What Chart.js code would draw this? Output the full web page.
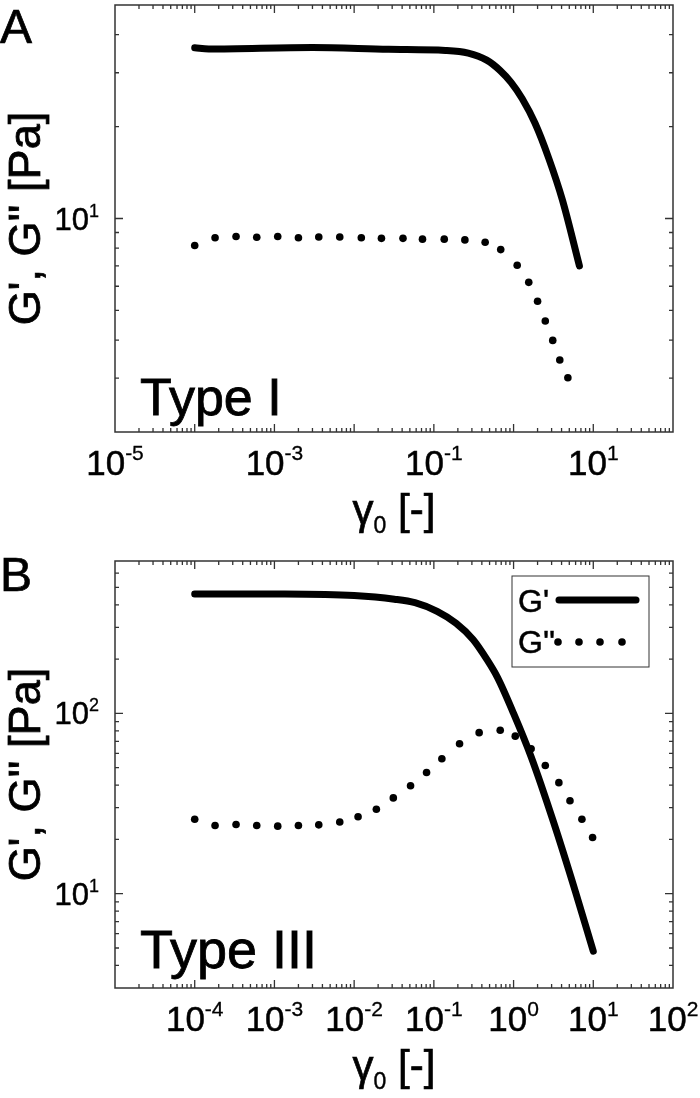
<!DOCTYPE html>
<html>
<head>
<meta charset="utf-8">
<script src="https://cdn.jsdelivr.net/npm/chart.js@4.4.0/dist/chart.umd.min.js"></script>
<style>
  html, body { margin: 0; padding: 0; background: #fff; }
  .panel { position: absolute; left: 0; width: 700px; }
  #wrapA { top: 0; height: 545px; }
  #wrapB { top: 545px; height: 553px; }
</style>
</head>
<body>
<div class="panel" id="wrapA"><canvas id="chartA"></canvas></div>
<div class="panel" id="wrapB"><canvas id="chartB"></canvas></div>
<script>
'use strict';

// Panel A (Type I) - strain amplitude and moduli
const strainA_Gp = [1e-4, 1.5e-4, 3e-3, 2.7e-2, 0.14, 0.27, 0.46, 0.68, 0.93, 1.28, 1.86, 2.75, 4.1, 6.7];
const gPrimeA = [36.2, 35.9, 36.3, 35.8, 35.5, 34.8, 33.0, 30.5, 27.9, 24.7, 20.5, 15.8, 11.5, 7.0];
const strainA_Gpp = [1e-4, 1.8e-4, 3.3e-4, 6e-4, 1.1e-3, 2e-3, 3.6e-3, 6.6e-3, 1.23e-2, 2.2e-2, 4.1e-2, 7.2e-2,
  0.135, 0.245, 0.44, 0.69, 1.11, 1.55, 2.0, 2.5, 3.1, 3.8, 4.8];
const gDoublePrimeA = [8.16, 8.65, 8.73, 8.68, 8.73, 8.65, 8.70, 8.70, 8.65, 8.61, 8.61, 8.56,
  8.56, 8.51, 8.36, 7.91, 7.03, 6.18, 5.36, 4.62, 3.99, 3.44, 3.01];

// Panel B (Type III)
const strainB_Gp = [1e-4, 1e-3, 1e-2, 3.2e-2, 5.8e-2, 0.11, 0.19, 0.31, 0.46, 0.63, 1.0, 1.66, 3.16, 6.0, 10];
const gPrimeB = [460, 459, 450, 430, 411, 368, 316, 257, 200, 158, 100, 57.5, 25.1, 10.2, 4.8];
const strainB_Gpp = [1e-4, 1.8e-4, 3.3e-4, 6e-4, 1.1e-3, 2e-3, 3.6e-3, 6.6e-3, 1.12e-2, 1.9e-2, 3.1e-2, 5.1e-2,
  8.1e-2, 0.126, 0.21, 0.37, 0.68, 1.05, 1.66, 2.5, 3.7, 5.1, 7.2, 9.8];
const gDoublePrimeB = [25.9, 23.9, 24.2, 23.9, 23.7, 23.9, 24.1, 25.0, 26.7, 29.4, 34.0, 39.7,
  47.0, 56.0, 67.8, 78.2, 80.7, 74.8, 63.7, 51.4, 41.3, 32.8, 25.9, 20.5];

// tick labels (exponents of 10)
const xLabelsA = [-5, -3, -1, 1];
const yLabelsA = [1];
const xLabelsB = [-4, -3, -2, -1, 0, 1, 2];
const yLabelsB = [1, 2];

const FONT = '"Liberation Sans", Arial, sans-serif';

function toPoints( xs, ys ) {
  let pts = [];
  for ( let i = 0; i < xs.length; i++ ) {
    pts.push( { x: xs[i], y: ys[i] } );
  }
  return pts;
}

function logTicks( min, max ) {
  let out = [];
  for ( let d = Math.floor( Math.log10( min ) ); d <= Math.ceil( Math.log10( max ) ); d++ ) {
    for ( let m = 1; m <= 9; m++ ) {
      let v = parseFloat( ( m * Math.pow( 10, d ) ).toPrecision( 6 ) );
      if ( v > min * 1.001 && v < max * 0.999 ) out.push( { v: v, major: m === 1 } );
    }
  }
  return out;
}

// filled text with a thin outline so it looks as heavy as the scan
function heavyText( ctx, txt, x, y, w ) {
  ctx.fillText( txt, x, y );
  ctx.lineWidth = w;
  ctx.strokeText( txt, x, y );
}

// "10" with a raised exponent
function drawPow( ctx, exp, x, y, size, expSize, rise, align ) {
  ctx.font = size + 'px ' + FONT;
  let w1 = ctx.measureText( '10' ).width;
  ctx.font = expSize + 'px ' + FONT;
  let e = String( exp );
  let w2 = ctx.measureText( e ).width;
  let start = align === 'right' ? x - w1 - w2 : x - ( w1 + w2 ) / 2;
  ctx.textAlign = 'left';
  ctx.textBaseline = 'alphabetic';
  ctx.font = size + 'px ' + FONT;
  heavyText( ctx, '10', start, y, 0.5 );
  ctx.font = expSize + 'px ' + FONT;
  heavyText( ctx, e, start + w1, y - rise, 0.3 );
}

const framePlugin = {
  id: 'frame',
  afterDraw( chart, args, opts ) {
    const ctx = chart.ctx;
    const a = chart.chartArea;
    const xs = chart.scales.x;
    const ys = chart.scales.y;
    ctx.save();
    ctx.fillStyle = '#000';

    // box
    ctx.strokeStyle = '#333';
    ctx.lineWidth = 1.5;
    ctx.strokeRect( a.left, a.top, a.right - a.left, a.bottom - a.top );

    // inward ticks on all four sides
    ctx.lineWidth = 1.3;
    ctx.beginPath();
    logTicks( xs.min, xs.max ).forEach( t => {
      let px = xs.getPixelForValue( t.v );
      let len = t.major ? 8 : 4;
      ctx.moveTo( px, a.bottom ); ctx.lineTo( px, a.bottom - len );
      ctx.moveTo( px, a.top ); ctx.lineTo( px, a.top + len );
    } );
    logTicks( ys.min, ys.max ).forEach( t => {
      let py = ys.getPixelForValue( t.v );
      let len = t.major ? 8 : 4;
      ctx.moveTo( a.left, py ); ctx.lineTo( a.left + len, py );
      ctx.moveTo( a.right, py ); ctx.lineTo( a.right - len, py );
    } );
    ctx.stroke();

    ctx.strokeStyle = '#000';
    // tick labels
    opts.xLabels.forEach( e => {
      drawPow( ctx, e, xs.getPixelForValue( Math.pow( 10, e ) ), a.bottom + 43, 35, 21, 15, 'center' );
    } );
    opts.yLabels.forEach( e => {
      drawPow( ctx, e, 99, ys.getPixelForValue( Math.pow( 10, e ) ) + 11, 31, 18, 13, 'right' );
    } );

    // x title: gamma_0 [-]
    ctx.textAlign = 'left';
    ctx.textBaseline = 'alphabetic';
    ctx.font = '42px ' + FONT;
    let wg = ctx.measureText( 'γ' ).width;
    let wb = ctx.measureText( ' [-]' ).width;
    ctx.font = '23px ' + FONT;
    let w0 = ctx.measureText( '0' ).width;
    let cx = ( a.left + a.right ) / 2;
    let sx = cx - ( wg + w0 + wb ) / 2;
    let by = a.bottom + 92;
    ctx.font = '42px ' + FONT;
    heavyText( ctx, 'γ', sx, by, 0.7 );
    heavyText( ctx, ' [-]', sx + wg + w0, by, 0.7 );
    ctx.font = '23px ' + FONT;
    heavyText( ctx, '0', sx + wg, by + 9, 0.4 );

    // y title
    ctx.save();
    ctx.translate( 40, ( a.top + a.bottom ) / 2 );
    ctx.rotate( -Math.PI / 2 );
    ctx.textAlign = 'center';
    ctx.font = '45px ' + FONT;
    heavyText( ctx, 'G\', G\'\' [Pa]', 0, 0, 0.8 );
    ctx.restore();

    // panel letter and type text
    ctx.textAlign = 'left';
    ctx.font = '48px ' + FONT;
    heavyText( ctx, opts.letter, 0, opts.letterY, 0.7 );
    ctx.font = opts.typeSize + 'px ' + FONT;
    heavyText( ctx, opts.typeText, 140, a.bottom - opts.typeGap, 0.8 );

    // legend box (panel B)
    if ( opts.legend ) {
      let lx = a.right - 161;
      let ly = a.top + 15;
      ctx.fillStyle = '#fff';
      ctx.fillRect( lx, ly, 137, 91 );
      ctx.strokeStyle = '#333';
      ctx.lineWidth = 1;
      ctx.strokeRect( lx, ly, 137, 91 );
      ctx.fillStyle = '#000';
      ctx.strokeStyle = '#000';
      ctx.font = '32px ' + FONT;
      heavyText( ctx, chart.data.datasets[0].label, lx + 6, ly + 36, 0.5 );
      heavyText( ctx, chart.data.datasets[1].label, lx + 6, ly + 77, 0.5 );
      ctx.lineWidth = 7;
      ctx.lineCap = 'round';
      ctx.beginPath();
      ctx.moveTo( lx + 47, ly + 24 );
      ctx.lineTo( lx + 124, ly + 24 );
      ctx.stroke();
      [46, 67, 88, 110].forEach( dx => {
        ctx.beginPath();
        ctx.arc( lx + dx, ly + 66, 3.8, 0, Math.PI * 2 );
        ctx.fill();
      } );
    }
    ctx.restore();
  }
};

function makeChart( id, gpX, gpY, gppX, gppY, yMin, yMax, padTop, padBottom, frameOpts ) {
  let ctx = document.getElementById( id ).getContext( '2d' );
  return new Chart( ctx, {
    type: 'scatter',
    data: {
      datasets: [{
        label: 'G\'',
        data: toPoints( gpX, gpY ),
        showLine: true,
        borderColor: '#000',
        borderWidth: 7,
        borderCapStyle: 'round',
        borderJoinStyle: 'round',
        cubicInterpolationMode: 'monotone',
        pointRadius: 0
      }, {
        label: 'G\'\'',
        data: toPoints( gppX, gppY ),
        showLine: false,
        pointRadius: 3.8,
        pointBorderWidth: 0,
        pointBackgroundColor: '#000'
      }]
    },
    options: {
      responsive: true,
      maintainAspectRatio: false,
      animation: false,
      layout: { padding: { left: 115, right: 27, top: padTop, bottom: padBottom } },
      scales: {
        x: { type: 'logarithmic', min: 1e-5, max: 100, display: false },
        y: { type: 'logarithmic', min: yMin, max: yMax, display: false }
      },
      plugins: {
        legend: { display: false },
        tooltip: { enabled: false },
        frame: frameOpts
      }
    },
    plugins: [framePlugin]
  } );
}

makeChart( 'chartA', strainA_Gp, gPrimeA, strainA_Gpp, gDoublePrimeA, 2, 50, 5, 113, {
  xLabels: xLabelsA, yLabels: yLabelsA, letter: 'A', letterY: 43,
  typeText: 'Type I', typeSize: 52, typeGap: 17, legend: false
} );

makeChart( 'chartB', strainB_Gp, gPrimeB, strainB_Gpp, gDoublePrimeB, 3, 700, 16, 110, {
  xLabels: xLabelsB, yLabels: yLabelsB, letter: 'B', letterY: 46,
  typeText: 'Type III', typeSize: 54, typeGap: 20, legend: true
} );
</script>
</body>
</html>
